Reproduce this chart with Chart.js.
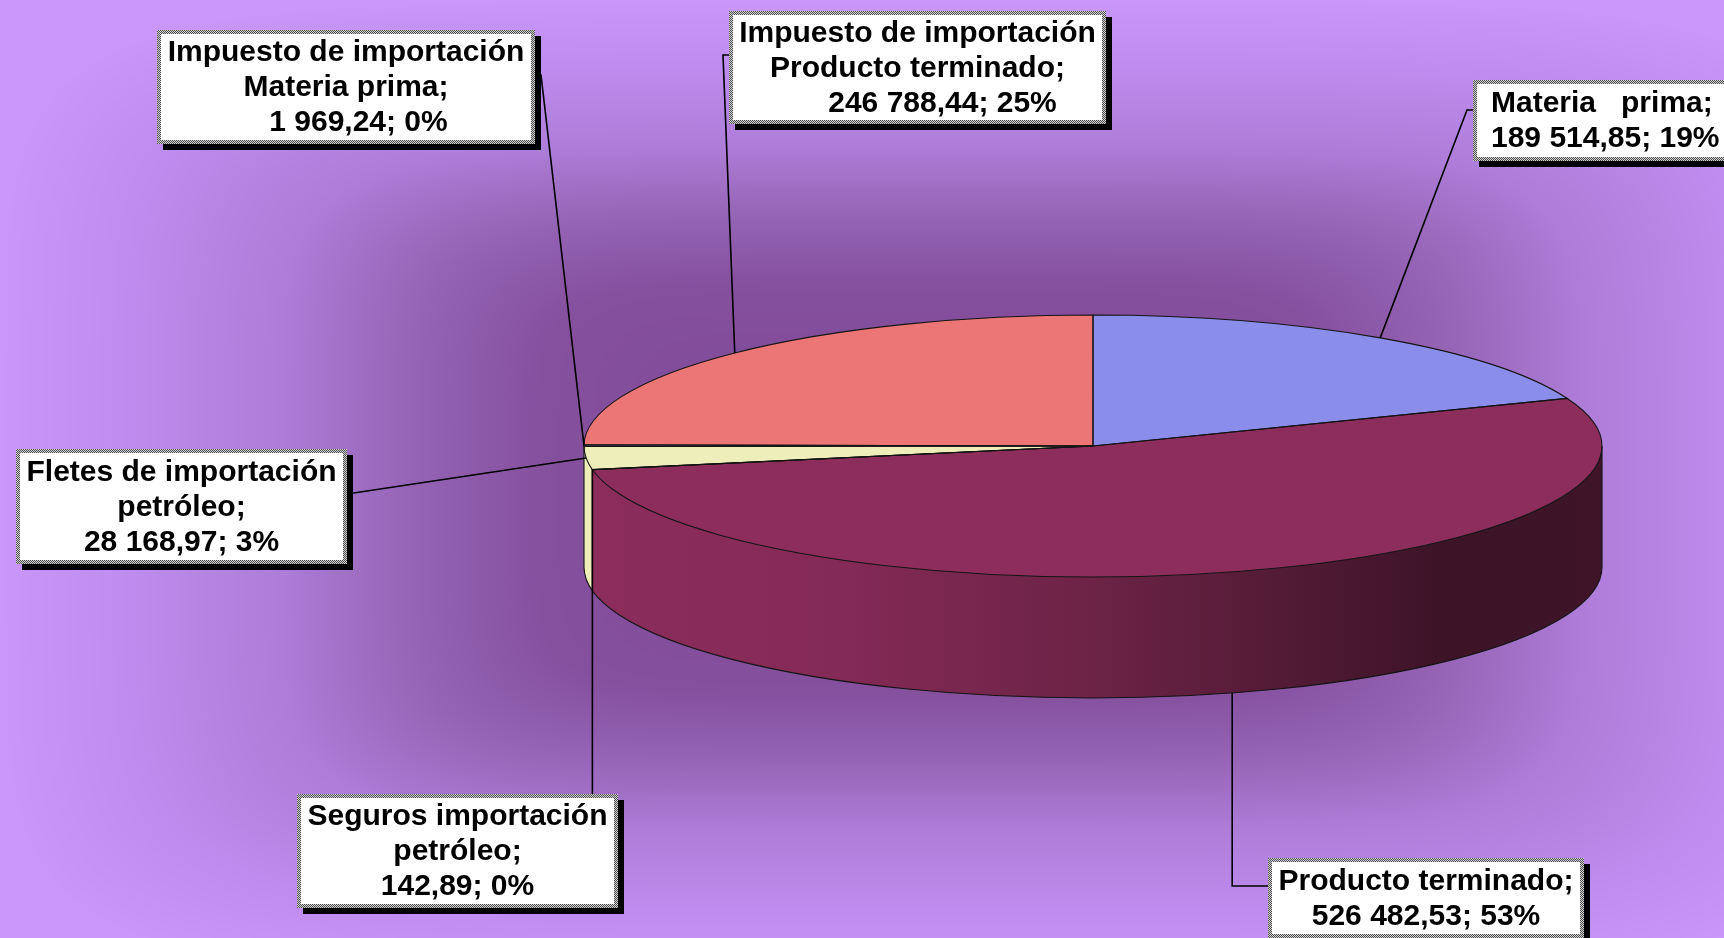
<!DOCTYPE html>
<html>
<head>
<meta charset="utf-8">
<script src="https://cdn.jsdelivr.net/npm/chart.js@4.4.1/dist/chart.umd.min.js"></script>
<style>
  html, body { margin: 0; padding: 0; overflow: hidden; background: #c996fa; }
  #myChart { display: block; }
</style>
</head>
<body>
<canvas id="myChart" width="1724" height="938"></canvas>
<script>
const categories = [
  'Materia prima',
  'Producto terminado',
  'Seguros importación petróleo',
  'Fletes de importación petróleo',
  'Impuesto de importación Materia prima',
  'Impuesto de importación Producto terminado',
];
const values = [189514.85, 526482.53, 142.89, 28168.97, 1969.24, 246788.44];
const nameLines = [
  ['Materia   prima;'],
  ['Producto terminado;'],
  ['Seguros importación', 'petróleo;'],
  ['Fletes de importación', 'petróleo;'],
  ['Impuesto de importación', 'Materia prima;'],
  ['Impuesto de importación', 'Producto terminado;'],
];
const sliceColors = ['#8a8de9', '#8c2d5b', '#a9b8e6', '#eeeebb', '#d6c8ee', '#ec7676'];

// pie placement on the page (tilted disc)
const PIE = { cx: 1093, cy: 446, rx: 509, ry: 131, depth: 121 };

// where each callout box sits, and how its leader line runs
const callouts = [
  { box: [1473, 80, 300, 81], route: 'elbow', elbow: [1467, 110], attach: [1473, 110], indent: 0, align: 'left' },
  { box: [1268, 858, 316, 80], route: 'v', attach: [1268, 886], indent: 0 },
  { box: [297, 794, 321, 114], route: 'v', attach: [null, 794], indent: 0 },
  { box: [16, 449, 331, 115], route: 'line', attach: [347, 494], indent: 0 },
  { box: [157, 30, 378, 114], route: 'elbow', elbow: [541, 75], attach: [535, 75], indent: 3 },
  { box: [729, 11, 377, 113], route: 'elbow', elbow: [723, 55], attach: [729, 55], indent: 6 },
];

const total = values.reduce((a, b) => a + b, 0);
const fmtNum = (v) => {
  const [i, d] = v.toFixed(2).split('.');
  return i.replace(/\B(?=(\d{3})+(?!\d))/g, ' ') + ',' + d;
};

function hexRgb(hex) {
  const n = parseInt(hex.slice(1), 16);
  return [(n >> 16) & 255, (n >> 8) & 255, n & 255];
}

function shade(hex, k) {
  const [r, g, b] = hexRgb(hex).map((c) => Math.round(c * k));
  return `rgb(${r}, ${g}, ${b})`;
}

// rectangular "from centre" fill like the office background
const bgStops = [
  [0, '#7c4592'],
  [0.42, '#85509e'],
  [0.55, '#9463b4'],
  [0.7, '#ad7dd8'],
  [0.86, '#be8cee'],
  [1, '#c996fa'],
].map(([t, c]) => [t, hexRgb(c)]);

let bgCache = null;
function buildBackground(w, h) {
  const off = document.createElement('canvas');
  off.width = w;
  off.height = h;
  const o = off.getContext('2d');
  const img = o.createImageData(w, h);
  const cx0 = w * 0.54, cy0 = h * 0.52, W = w * 0.54, H = h * 0.52;
  const p = 6;
  for (let y = 0; y < h; y++) {
    const dy = Math.abs(y - cy0) / H;
    for (let x = 0; x < w; x++) {
      const dx = Math.abs(x - cx0) / W;
      let t = Math.pow(Math.pow(dx, p) + Math.pow(dy, p), 1 / p);
      if (t > 1) t = 1;
      let k = 1;
      while (k < bgStops.length - 1 && bgStops[k][0] < t) k++;
      const [t0, c0] = bgStops[k - 1];
      const [t1, c1] = bgStops[k];
      const f = (t - t0) / (t1 - t0);
      const idx = (y * w + x) * 4;
      img.data[idx] = c0[0] + (c1[0] - c0[0]) * f;
      img.data[idx + 1] = c0[1] + (c1[1] - c0[1]) * f;
      img.data[idx + 2] = c0[2] + (c1[2] - c0[2]) * f;
      img.data[idx + 3] = 255;
    }
  }
  o.putImageData(img, 0, 0);
  return off;
}

const bgPlugin = {
  id: 'bg',
  beforeDraw(chart) {
    const { ctx, width, height } = chart;
    if (!bgCache) bgCache = buildBackground(width, height);
    ctx.drawImage(bgCache, 0, 0, width, height);
  },
};

const tiltPlugin = {
  id: 'tilt',
  beforeDatasetsDraw(chart) {
    const ctx = chart.ctx;
    const meta = chart.getDatasetMeta(0);
    const { cx, cy, rx, ry, depth } = PIE;
    // side wall, only the front half is visible
    meta.data.forEach((arc, i) => {
      const a = Math.max(arc.startAngle, 0);
      const b = Math.min(arc.endAngle, Math.PI);
      if (b <= a) return;
      const base = sliceColors[i];
      const g = ctx.createLinearGradient(cx - rx, 0, cx + rx, 0);
      g.addColorStop(0, shade(base, 1));
      g.addColorStop(0.25, shade(base, 0.94));
      g.addColorStop(0.5, shade(base, 0.77));
      g.addColorStop(0.72, shade(base, 0.56));
      g.addColorStop(0.85, shade(base, 0.43));
      g.addColorStop(1, shade(base, 0.45));
      ctx.beginPath();
      ctx.ellipse(cx, cy, rx, ry, 0, a, b);
      ctx.ellipse(cx, cy + depth, rx, ry, 0, b, a, true);
      ctx.closePath();
      ctx.fillStyle = g;
      ctx.fill();
    });
    // squash the library's round pie into the top face
    const a0 = meta.data[0];
    const R = a0.outerRadius;
    ctx.save();
    ctx.translate(cx, cy);
    ctx.scale(rx / R, ry / R);
    ctx.translate(-a0.x, -a0.y);
  },
  afterDatasetsDraw(chart) {
    const ctx = chart.ctx;
    ctx.restore();
    const meta = chart.getDatasetMeta(0);
    const { cx, cy, rx, ry, depth } = PIE;
    ctx.save();
    ctx.strokeStyle = '#141414';
    ctx.lineWidth = 1.1;
    meta.data.forEach((arc) => {
      ctx.beginPath();
      ctx.moveTo(cx, cy);
      ctx.ellipse(cx, cy, rx, ry, 0, arc.startAngle, arc.endAngle);
      ctx.closePath();
      ctx.stroke();
    });
    ctx.beginPath();
    ctx.ellipse(cx, cy + depth, rx, ry, 0, 0, Math.PI);
    ctx.moveTo(cx + rx, cy);
    ctx.lineTo(cx + rx, cy + depth);
    ctx.moveTo(cx - rx, cy);
    ctx.lineTo(cx - rx, cy + depth);
    meta.data.forEach((arc) => {
      const t = arc.endAngle;
      if (t > 0.02 && t < Math.PI - 0.02) {
        const x = cx + rx * Math.cos(t);
        const y = cy + ry * Math.sin(t);
        ctx.moveTo(x, y);
        ctx.lineTo(x, y + depth);
      }
    });
    ctx.stroke();
    ctx.restore();
  },
};

function makePattern(ctx) {
  const c = document.createElement('canvas');
  c.width = 2;
  c.height = 2;
  const p = c.getContext('2d');
  p.fillStyle = '#d0d0d0';
  p.fillRect(0, 0, 2, 2);
  p.fillStyle = '#505050';
  p.fillRect(0, 0, 1, 1);
  p.fillRect(1, 1, 1, 1);
  return ctx.createPattern(c, 'repeat');
}

const calloutPlugin = {
  id: 'callouts',
  afterDraw(chart) {
    const ctx = chart.ctx;
    const meta = chart.getDatasetMeta(0);
    const { cx, cy, rx, ry, depth } = PIE;
    const pattern = makePattern(ctx);
    ctx.save();
    callouts.forEach((c, i) => {
      const arc = meta.data[i];
      const mid = (arc.startAngle + arc.endAngle) / 2;
      const ax = cx + rx * Math.cos(mid);
      let ay = cy + ry * Math.sin(mid);
      if (Math.sin(mid) > 0.5) ay += depth;
      const attach = [c.attach[0] === null ? ax : c.attach[0], c.attach[1]];
      const pts = [[ax, ay]];
      if (c.route === 'elbow') pts.push(c.elbow);
      if (c.route === 'v') pts.push([ax, attach[1]]);
      pts.push(attach);
      ctx.beginPath();
      ctx.moveTo(pts[0][0], pts[0][1]);
      pts.slice(1).forEach((p) => ctx.lineTo(p[0], p[1]));
      ctx.strokeStyle = '#000';
      ctx.lineWidth = 1.6;
      ctx.stroke();

      const [x, y, w, h] = c.box;
      ctx.fillStyle = '#000';
      ctx.fillRect(x + 6, y + 6, w, h);
      ctx.fillStyle = pattern;
      ctx.fillRect(x, y, w, h);
      ctx.fillStyle = '#fff';
      ctx.fillRect(x + 4, y + 4, w - 8, h - 8);

      const pct = Math.round((values[i] / total) * 100);
      const lines = nameLines[i].concat(' '.repeat(c.indent) + fmtNum(values[i]) + '; ' + pct + '%');
      ctx.fillStyle = '#000';
      ctx.font = 'bold 30px "Liberation Sans", Arial, sans-serif';
      ctx.textBaseline = 'middle';
      const lh = 35;
      const top = y + h / 2 - ((lines.length - 1) * lh) / 2;
      if (c.align === 'left') {
        ctx.textAlign = 'left';
        lines.forEach((t, k) => ctx.fillText(t, x + 18, top + k * lh + 1));
      } else {
        ctx.textAlign = 'center';
        lines.forEach((t, k) => ctx.fillText(t, x + w / 2, top + k * lh + 1));
      }
    });
    ctx.restore();
  },
};

const ctx = document.getElementById('myChart').getContext('2d');
const chart = new Chart(ctx, {
  type: 'pie',
  data: {
    labels: categories,
    datasets: [{
      data: values,
      backgroundColor: sliceColors,
      borderWidth: 0,
      hoverOffset: 0,
    }],
  },
  options: {
    responsive: false,
    animation: false,
    events: [],
    layout: { padding: 0 },
    plugins: {
      legend: { display: false },
      tooltip: { enabled: false },
    },
  },
  plugins: [bgPlugin, tiltPlugin, calloutPlugin],
});
</script>
</body>
</html>
